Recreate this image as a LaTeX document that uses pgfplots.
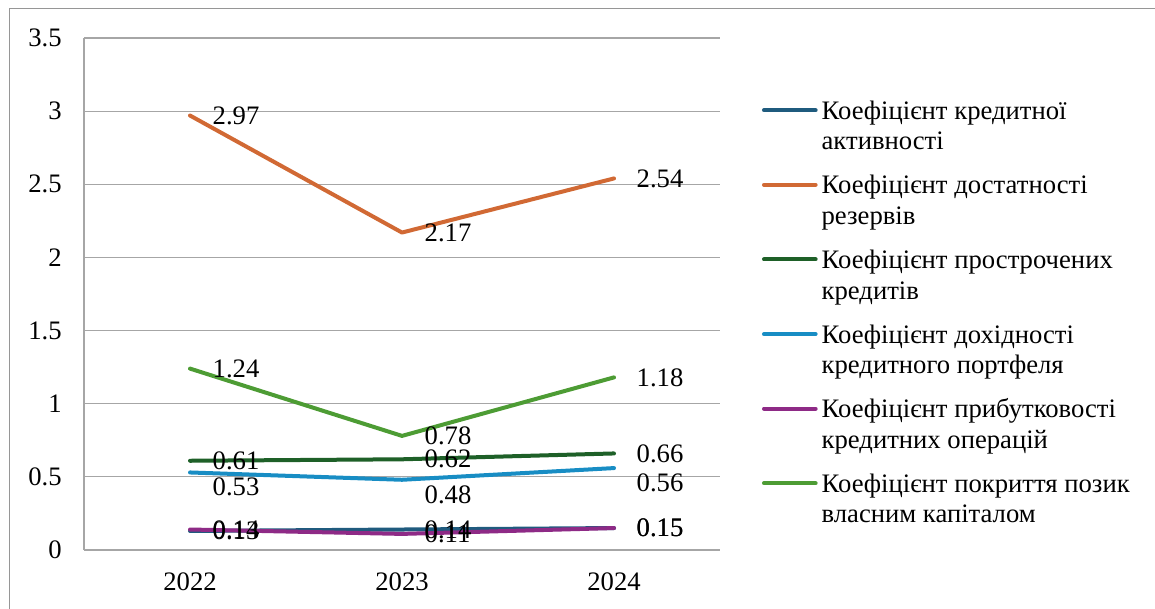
\documentclass[border=0pt]{standalone}
\usepackage{fontspec}
\setmainfont{Liberation Serif}
\usepackage{pgfplots}
\usepackage{pgfplotstable}
\pgfplotsset{compat=1.18}

% series colours
\definecolor{cAkt}{RGB}{31,91,126}
\definecolor{cRez}{RGB}{209,105,52}
\definecolor{cPro}{RGB}{30,96,40}
\definecolor{cDoh}{RGB}{24,141,196}
\definecolor{cPry}{RGB}{142,42,134}
\definecolor{cPok}{RGB}{77,156,52}
\definecolor{gridc}{RGB}{166,166,166}
\definecolor{framec}{RGB}{150,150,150}

\newcommand\chartfont{\fontsize{20}{23}\selectfont}

% credit portfolio ratios by year
\pgfplotstableread{
x akt rez pro doh pry pok
0 0.13 2.97 0.61 0.53 0.14 1.24
1 0.14 2.17 0.62 0.48 0.11 0.78
2 0.15 2.54 0.66 0.56 0.15 1.18
}\ratios

\begin{document}
\begin{tikzpicture}
\path[use as bounding box] (0,0) rectangle (866.25pt,456.75pt);
\draw[framec, line width=0.9pt] (7pt,0pt) -- (7pt,450.5pt) -- (866.25pt,450.5pt);
\begin{axis}[
  at={(63pt,44.25pt)}, anchor=south west,
  scale only axis, width=477pt, height=384pt,
  xmin=-0.5, xmax=2.5, ymin=0, ymax=3.5,
  xtick={0,1,2}, xticklabels={2022,2023,2024},
  ytick={0,0.5,1,1.5,2,2.5,3,3.5},
  axis lines*=left,
  axis line style={gridc, line width=0.9pt},
  ymajorgrids, grid style={gridc, line width=0.9pt},
  major tick length=0pt,
  clip=false,
  tick label style={font=\chartfont, inner sep=0pt, text=black},
  yticklabel style={anchor=east, xshift=-16.5pt},
  xticklabel style={anchor=base, yshift=-30.2pt},
  /pgf/number format/assume math mode=true,
  /pgf/number format/fixed,
  /pgf/number format/precision=2,
  every axis plot/.append style={line width=3pt, line cap=round, line join=round},
  every node near coord/.append style={anchor=west, inner sep=0pt, xshift=15.5pt, font=\chartfont, text=black},
  legend style={at={(1.066,0.8832)}, anchor=north west, draw=none, fill=none,
    inner sep=0pt, outer sep=0pt, font=\chartfont, row sep=38.35pt, column sep=3pt,
    nodes={inner sep=0pt}, cells={anchor=base west}},
  legend image code/.code={\draw[#1, line width=3pt, line cap=round] (0.5pt,6.75pt) -- (39.25pt,6.75pt);},
]
\addplot[cAkt, nodes near coords] table[x=x, y=akt] {\ratios};
\addlegendentry{\parbox[t]{260pt}{\strut Коефіцієнт кредитної\\активності\strut}}
\addplot[cRez, nodes near coords] table[x=x, y=rez] {\ratios};
\addlegendentry{\parbox[t]{260pt}{\strut Коефіцієнт достатності\\резервів\strut}}
\addplot[cPro, nodes near coords] table[x=x, y=pro] {\ratios};
\addlegendentry{\parbox[t]{260pt}{\strut Коефіцієнт прострочених\\кредитів\strut}}
\addplot[cDoh, nodes near coords, every node near coord/.append style={yshift=-11pt}] table[x=x, y=doh] {\ratios};
\addlegendentry{\parbox[t]{260pt}{\strut Коефіцієнт дохідності\\кредитного портфеля\strut}}
\addplot[cPry, nodes near coords] table[x=x, y=pry] {\ratios};
\addlegendentry{\parbox[t]{260pt}{\strut Коефіцієнт прибутковості\\кредитних операцій\strut}}
\addplot[cPok, nodes near coords] table[x=x, y=pok] {\ratios};
\addlegendentry{\parbox[t]{260pt}{\strut Коефіцієнт покриття позик\\власним капіталом\strut}}
\end{axis}
\end{tikzpicture}
\end{document}
